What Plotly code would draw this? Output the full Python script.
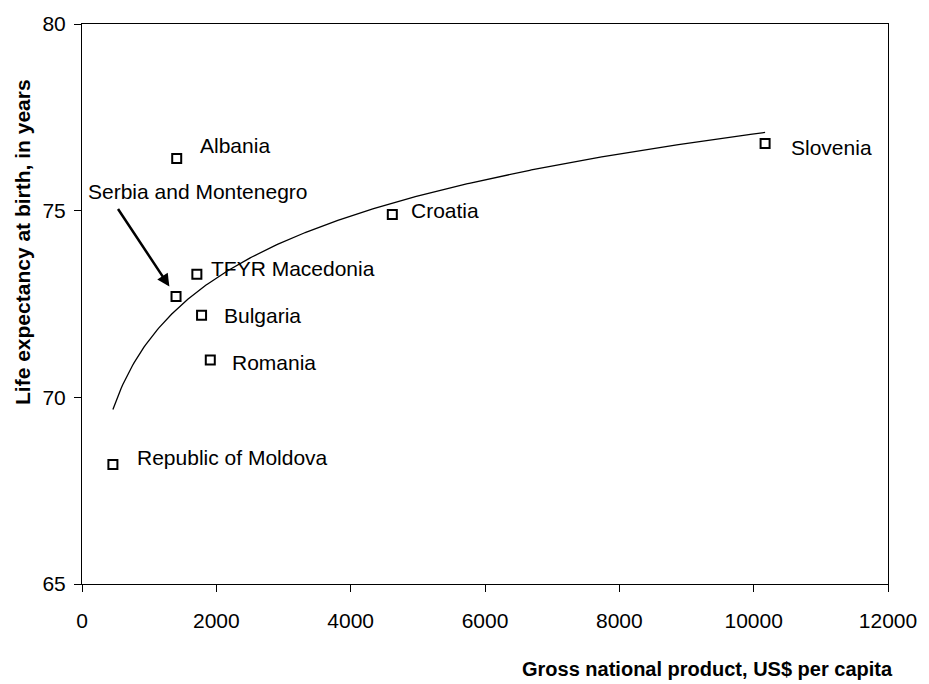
import numpy as np
import plotly.graph_objects as go

# Country data: GNP per capita (US$) and life expectancy at birth (years)
countries = ["Albania", "Slovenia", "Croatia", "TFYR Macedonia",
             "Serbia and Montenegro", "Bulgaria", "Romania", "Republic of Moldova"]
gnp = [1410, 10170, 4620, 1710, 1400, 1780, 1910, 460]
life_exp = [76.4, 76.8, 74.9, 73.3, 72.7, 72.2, 71.0, 68.2]

x_ticks = [0, 2000, 4000, 6000, 8000, 10000, 12000]
y_ticks = [65, 70, 75, 80]

FONT = "Liberation Sans, Arial, sans-serif"

# Logarithmic trend line fitted to the data (least squares on ln x)
gx = np.array(gnp, dtype=float)
gy = np.array(life_exp, dtype=float)
slope, intercept = np.polyfit(np.log(gx), gy, 1)
trend_x = np.linspace(gx.min(), gx.max(), 400)
trend_y = intercept + slope * np.log(trend_x)

fig = go.Figure()
fig.add_trace(go.Scatter(x=trend_x, y=trend_y, mode="lines",
                         line=dict(color="black", width=1.3),
                         hoverinfo="skip", showlegend=False))
fig.add_trace(go.Scatter(x=gnp, y=life_exp, mode="markers",
                         marker=dict(symbol="square-open", size=9, color="black",
                                     line=dict(color="black", width=2)),
                         text=countries, showlegend=False))

# Label placement (pixel offsets from each marker)
offsets = {
    "Albania": (21, -13),
    "Slovenia": (24, 4),
    "Croatia": (17, -4),
    "TFYR Macedonia": (12, -6),
    "Bulgaria": (20, 0),
    "Romania": (20, 2),
    "Republic of Moldova": (22, -7),
}
for name, xv, yv in zip(countries, gnp, life_exp):
    if name in offsets:
        dx, dy = offsets[name]
        fig.add_annotation(x=xv, y=yv, text=name, showarrow=False,
                           xanchor="left", yanchor="middle",
                           xshift=dx, yshift=-dy,
                           font=dict(family=FONT, size=21, color="black"))

# Serbia and Montenegro: text with an arrow pointing at its marker
si = countries.index("Serbia and Montenegro")
fig.add_annotation(x=gnp[si], y=life_exp[si], text="", showarrow=True,
                   ax=-59, ay=-89, arrowhead=2, arrowsize=1, arrowwidth=2.5,
                   arrowcolor="black", standoff=12)
fig.add_annotation(x=gnp[si], y=life_exp[si], text="Serbia and Montenegro",
                   showarrow=False, xanchor="left", yanchor="middle",
                   xshift=-90, yshift=105,
                   font=dict(family=FONT, size=21, color="black"))

# Axis titles
fig.add_annotation(xref="paper", yref="paper", x=1, y=0,
                   text="<b>Gross national product, US$ per capita</b>",
                   showarrow=False, xanchor="right", yanchor="middle",
                   xshift=7, yshift=-85,
                   font=dict(family=FONT, size=20, color="black"))
fig.add_annotation(xref="paper", yref="paper", x=0, y=1,
                   text="<b>Life expectancy at birth, in years</b>",
                   showarrow=False, textangle=-90, xanchor="center", yanchor="top",
                   xshift=-60, yshift=-53,
                   font=dict(family=FONT, size=21, color="black"))

axis_common = dict(showgrid=False, zeroline=False, showline=True, linecolor="black",
                   linewidth=1, mirror=True, ticks="outside", ticklen=7,
                   tickcolor="black", tickwidth=1,
                   tickfont=dict(family=FONT, size=21, color="black"))

fig.update_xaxes(range=[0, 12000], tickvals=x_ticks,
                 ticktext=[str(v) for v in x_ticks], ticklabelstandoff=11,
                 **axis_common)
fig.update_yaxes(range=[65, 80], tickvals=y_ticks,
                 ticktext=[str(v) for v in y_ticks], ticklabelstandoff=4,
                 **axis_common)

fig.update_layout(width=929, height=684,
                  margin=dict(l=82, r=32, t=15, b=100),
                  paper_bgcolor="white", plot_bgcolor="white",
                  font=dict(family=FONT, color="black"))

fig.write_html("out.html")
